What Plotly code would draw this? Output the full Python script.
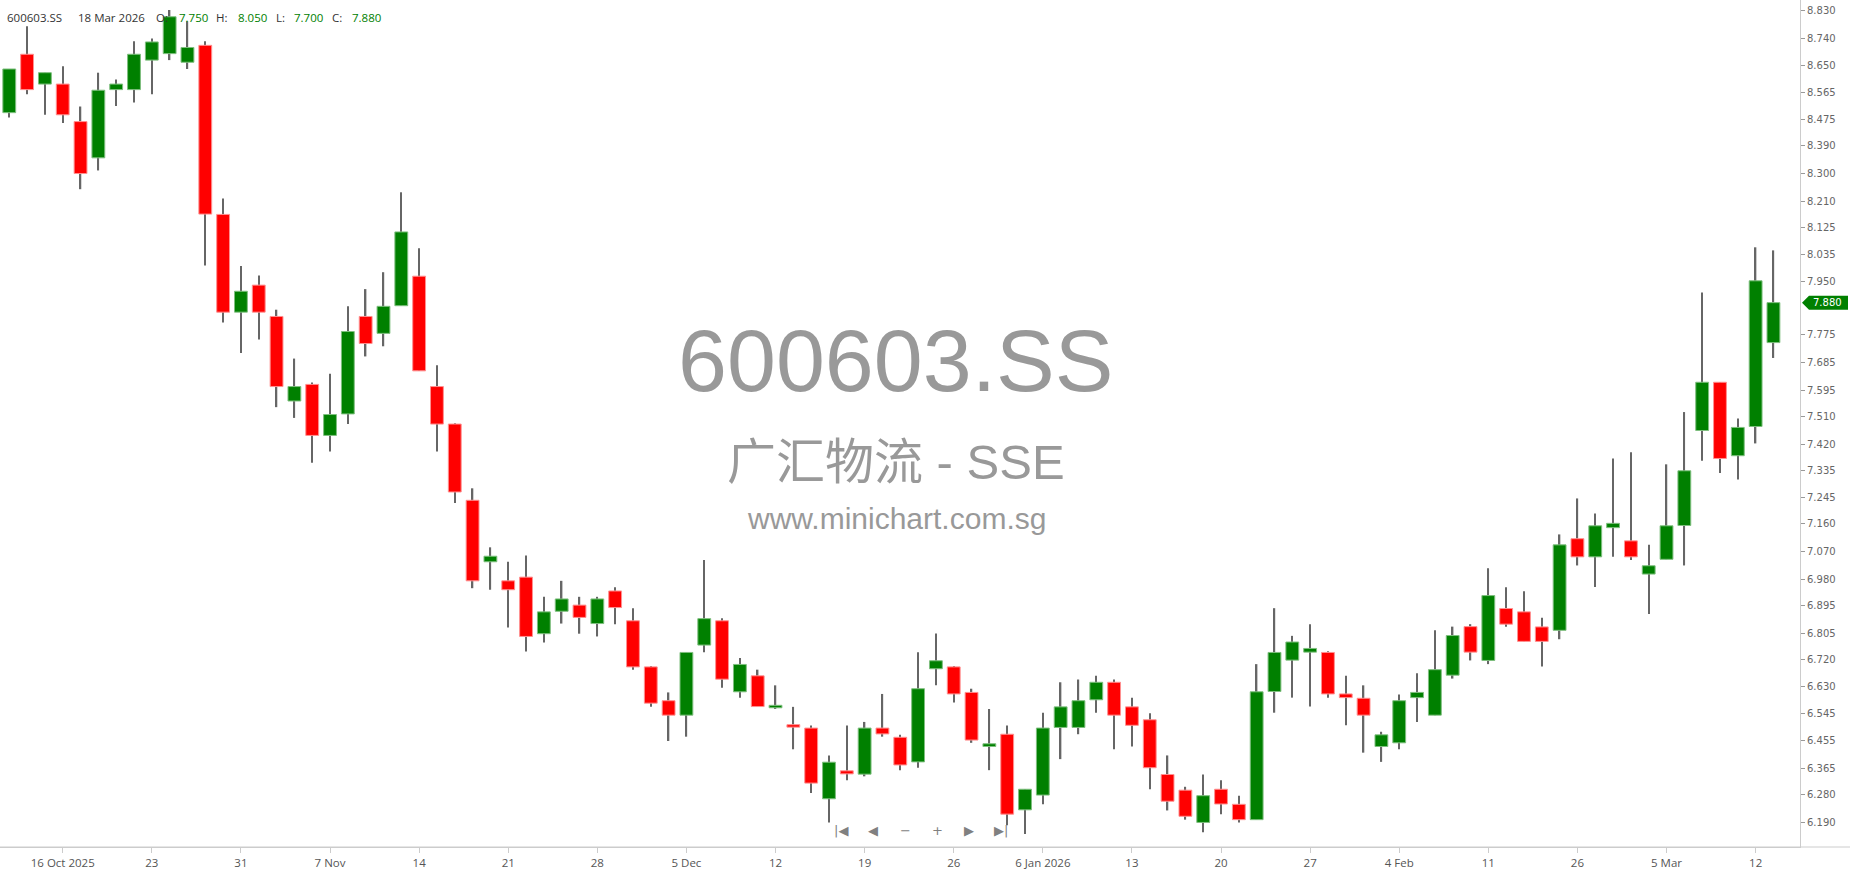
"""
Daily candles for 600603.SS with the minichart watermark
"""
import plotly.graph_objects as go

ticker = "600603.SS"
name_cn = "广汇物流 - SSE"
site = "www.minichart.com.sg"
last_date = "18 Mar 2026"

opens = [
    8.498, 8.688, 8.591, 8.591, 8.469, 8.351, 8.573, 8.573, 8.669, 8.690,
    8.662, 8.717, 8.167, 7.849, 7.937, 7.835, 7.560, 7.614, 7.448, 7.518,
    7.835, 7.780, 7.870, 7.966, 7.607, 7.485, 7.237, 7.037, 6.975, 6.987,
    6.803, 6.876, 6.896, 6.836, 6.942, 6.845, 6.695, 6.585, 6.538, 6.766,
    6.845, 6.614, 6.666, 6.562, 6.504, 6.496, 6.266, 6.357, 6.346, 6.496,
    6.466, 6.386, 6.689, 6.695, 6.612, 6.436, 6.476, 6.230, 6.278, 6.498,
    6.498, 6.588, 6.645, 6.565, 6.523, 6.345, 6.294, 6.189, 6.297, 6.248,
    6.198, 6.615, 6.717, 6.743, 6.742, 6.607, 6.593, 6.436, 6.448, 6.595,
    6.538, 6.668, 6.826, 6.716, 6.885, 6.874, 6.825, 6.814, 7.112, 7.053,
    7.148, 7.105, 6.997, 7.045, 7.155, 7.464, 7.621, 7.382, 7.477, 7.750,
]
highs = [
    8.640, 8.779, 8.628, 8.649, 8.518, 8.628, 8.606, 8.730, 8.739, 8.832,
    8.795, 8.730, 8.219, 7.999, 7.968, 7.857, 7.698, 7.620, 7.649, 7.868,
    7.924, 7.979, 8.239, 8.057, 7.676, 7.488, 7.276, 7.084, 7.037, 7.057,
    6.923, 6.975, 6.923, 6.923, 6.954, 6.886, 6.698, 6.612, 6.742, 7.043,
    6.853, 6.724, 6.686, 6.635, 6.565, 6.504, 6.407, 6.504, 6.516, 6.607,
    6.474, 6.743, 6.804, 6.698, 6.624, 6.558, 6.504, 6.297, 6.546, 6.645,
    6.654, 6.666, 6.654, 6.595, 6.544, 6.407, 6.305, 6.345, 6.326, 6.276,
    6.704, 6.886, 6.796, 6.834, 6.746, 6.666, 6.635, 6.484, 6.605, 6.674,
    6.814, 6.826, 6.834, 7.016, 6.954, 6.941, 6.855, 7.126, 7.243, 7.194,
    7.373, 7.393, 7.092, 7.354, 7.524, 7.913, 7.621, 7.503, 8.060, 8.050,
]
lows = [
    8.482, 8.558, 8.491, 8.464, 8.249, 8.310, 8.520, 8.531, 8.558, 8.669,
    8.640, 8.001, 7.815, 7.716, 7.760, 7.540, 7.505, 7.359, 7.396, 7.485,
    7.705, 7.738, 7.870, 7.658, 7.396, 7.228, 6.951, 6.946, 6.823, 6.745,
    6.774, 6.836, 6.803, 6.794, 6.834, 6.686, 6.565, 6.454, 6.468, 6.743,
    6.627, 6.595, 6.566, 6.558, 6.427, 6.285, 6.189, 6.326, 6.339, 6.468,
    6.359, 6.367, 6.635, 6.579, 6.448, 6.359, 6.180, 6.151, 6.248, 6.395,
    6.476, 6.546, 6.427, 6.436, 6.297, 6.228, 6.198, 6.157, 6.216, 6.189,
    6.198, 6.546, 6.595, 6.566, 6.595, 6.505, 6.416, 6.386, 6.427, 6.516,
    6.538, 6.657, 6.716, 6.704, 6.826, 6.778, 6.696, 6.785, 7.025, 6.955,
    7.053, 7.043, 6.867, 7.045, 7.025, 7.366, 7.326, 7.305, 7.422, 7.700,
]
closes = [
    8.640, 8.573, 8.628, 8.491, 8.300, 8.571, 8.591, 8.688, 8.728, 8.810,
    8.710, 8.168, 7.849, 7.917, 7.849, 7.607, 7.607, 7.448, 7.516, 7.786,
    7.747, 7.868, 8.110, 7.658, 7.485, 7.264, 6.975, 7.055, 6.946, 6.794,
    6.874, 6.916, 6.856, 6.916, 6.888, 6.695, 6.577, 6.538, 6.742, 6.852,
    6.655, 6.703, 6.566, 6.566, 6.499, 6.317, 6.385, 6.347, 6.496, 6.477,
    6.376, 6.624, 6.715, 6.607, 6.457, 6.445, 6.216, 6.297, 6.496, 6.565,
    6.585, 6.645, 6.538, 6.505, 6.367, 6.258, 6.209, 6.276, 6.249, 6.198,
    6.614, 6.742, 6.776, 6.755, 6.607, 6.595, 6.538, 6.474, 6.585, 6.612,
    6.686, 6.797, 6.743, 6.927, 6.834, 6.778, 6.778, 7.092, 7.053, 7.154,
    7.162, 7.053, 7.024, 7.154, 7.333, 7.621, 7.373, 7.474, 7.951, 7.880,
]

x_tick_pos = [3, 8, 13, 18, 23, 28, 33, 38, 43, 48,
              53, 58, 63, 68, 73, 78, 83, 88, 93, 98]
x_tick_text = ["16 Oct 2025", "23", "31", "7 Nov", "14", "21", "28", "5 Dec",
               "12", "19", "26", "6 Jan 2026", "13", "20", "27", "4 Feb",
               "11", "26", "5 Mar", "12"]
# 7.860 sits under the last-price flag, so it is left out
y_ticks = [8.830, 8.740, 8.650, 8.565, 8.475, 8.390, 8.300, 8.210, 8.125,
           8.035, 7.950, 7.775, 7.685, 7.595, 7.510, 7.420, 7.335,
           7.245, 7.160, 7.070, 6.980, 6.895, 6.805, 6.720, 6.630, 6.545,
           6.455, 6.365, 6.280, 6.190]

UP = "#008000"
DOWN = "#ff0000"
PLOT_W = 1800  # plot area width in px, used for paper positions


def add_text(fig, x_px, y_paper, text, color, size, family="Open Sans", anchor="left"):
    fig.add_annotation(
        xref="paper", yref="paper", x=x_px / PLOT_W, y=y_paper,
        text=text, showarrow=False, xanchor=anchor, yanchor="middle",
        font=dict(color=color, size=size, family=family),
    )


def candle_chart():
    idx = list(range(len(opens)))
    rising = [c >= o for o, c in zip(opens, closes)]
    body_len = [max(abs(c - o), 0.008) for o, c in zip(opens, closes)]
    body_base = [min(o, c) for o, c in zip(opens, closes)]

    fig = go.Figure()
    # wicks first, bodies on top
    fig.add_trace(go.Bar(
        x=idx, y=[h - l for h, l in zip(highs, lows)], base=lows,
        width=0.08, marker=dict(color="#666666", line=dict(width=0)),
        hoverinfo="skip",
    ))
    fig.add_trace(go.Bar(
        x=idx, y=body_len, base=body_base, width=0.72,
        marker=dict(
            color=[UP if r else DOWN for r in rising],
            line=dict(width=1, color=["#7fbf7f" if r else "#ff9090" for r in rising]),
        ),
        hoverinfo="skip",
    ))

    fig.update_layout(
        width=1850, height=874,
        margin=dict(l=0, r=50, t=0, b=27),
        paper_bgcolor="white", plot_bgcolor="white",
        barmode="overlay", showlegend=False,
    )
    fig.update_xaxes(
        range=[-0.52, 100.49], tickvals=x_tick_pos, ticktext=x_tick_text,
        showgrid=False, zeroline=False, showline=True, linecolor="#cccccc",
        ticks="outside", ticklen=5, tickcolor="#cccccc",
        tickfont=dict(family="Open Sans", size=11.5, color="#555555"),
    )
    fig.update_yaxes(
        range=[6.1091, 8.8645], side="right", tickvals=y_ticks, tickformat=".3f",
        showgrid=False, zeroline=False, showline=True, linecolor="#cccccc",
        ticks="outside", ticklen=4, tickcolor="#999999",
        tickfont=dict(family="DejaVu Sans", size=10, color="#666666"),
    )

    # bottom line runs under the price scale too
    fig.add_shape(type="line", xref="paper", yref="paper", x0=0, x1=1850 / PLOT_W,
                  y0=0, y1=0, line=dict(color="#cccccc", width=1))

    # watermark
    add_text(fig, 896, 0.574, ticker, "#999999", 88, "Liberation Sans", "center")
    add_text(fig, 896, 0.455, name_cn, "#999999", 49,
             "Liberation Sans, Noto Sans CJK SC", "center")
    add_text(fig, 896, 0.388, site, "#999999", 30, "Liberation Sans", "center")

    # header with last bar values
    hy = 1 - 18 / 847
    add_text(fig, 5, hy, ticker, "#333333", 11.5)
    add_text(fig, 76, hy, last_date, "#333333", 11.5)
    parts = [("O:", opens[-1], 154, 177), ("H:", highs[-1], 214, 236),
             ("L:", lows[-1], 274, 292), ("C:", closes[-1], 330, 350)]
    for lab, val, x_lab, x_val in parts:
        add_text(fig, x_lab, hy, lab, "#333333", 11.5)
        add_text(fig, x_val, hy, f"{val:.3f}", UP, 11.5)

    # navigation buttons
    for x_px, sym in [(841, "|◀"), (873, "◀"), (905, "−"), (937, "+"),
                      (969, "▶"), (1001, "▶|")]:
        add_text(fig, x_px, 1 - 830 / 847, sym, "#808080", 13, "DejaVu Sans", "center")

    # last price flag on the scale
    fig.add_shape(
        type="path", xref="paper", yref="y", xsizemode="pixel", ysizemode="pixel",
        xanchor=1, yanchor=closes[-1],
        path="M 2,0 L 9,7 L 48,7 L 48,-7 L 9,-7 Z",
        fillcolor=UP, line=dict(width=0), layer="above",
    )
    fig.add_annotation(
        xref="paper", yref="y", x=1, y=closes[-1], xshift=11, xanchor="left",
        yanchor="middle", text=f"{closes[-1]:.3f}", showarrow=False,
        font=dict(color="white", size=10, family="DejaVu Sans"),
    )
    return fig


fig = candle_chart()
# the page body has a default 8px margin; drop it so the chart fills the window
fig.write_html(
    "out.html",
    config={"displayModeBar": False},
    post_script="document.body.style.margin = '0';",
)
